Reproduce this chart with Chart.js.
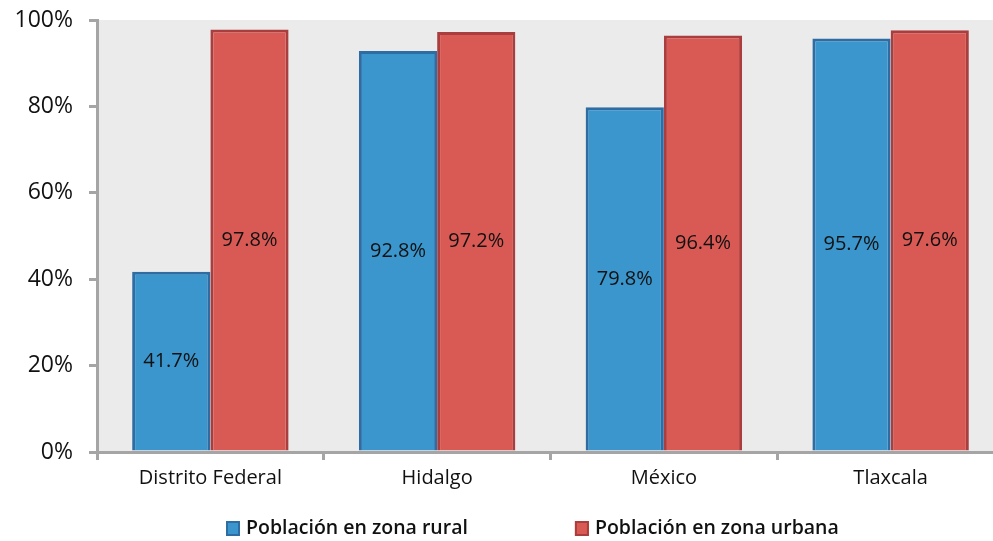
<!DOCTYPE html>
<html>
<head>
<meta charset="utf-8">
<script src="https://cdn.jsdelivr.net/npm/chart.js@4/dist/chart.umd.min.js"></script>
<style>
  html, body { margin: 0; padding: 0; background: #ffffff; overflow: hidden; }
  #wrap { position: relative; width: 1010px; height: 541px; }
  canvas { display: block; }
</style>
</head>
<body>
<div id="wrap"><canvas id="chart" width="1010" height="541"></canvas></div>
<script>
// Share of population by zone, per state
const categories = ['Distrito Federal', 'Hidalgo', 'México', 'Tlaxcala'];
const seriesNames = ['Población en zona rural', 'Población en zona urbana'];
const ruralValues = [41.7, 92.8, 79.8, 95.7];
const urbanValues = [97.8, 97.2, 96.4, 97.6];
const yTicks = [0, 20, 40, 60, 80, 100];

const FONT = '"Open Sans", "Noto Sans", sans-serif';
const AXIS_GREY = '#A5A5A5';

// Light grey plot background
const plotBackground = {
  id: 'plotBackground',
  beforeDraw(chart) {
    const { ctx, chartArea: a } = chart;
    ctx.save();
    ctx.fillStyle = '#EBEBEB';
    ctx.fillRect(a.left, a.top, a.right - a.left, a.bottom - a.top);
    ctx.restore();
  }
};

// Value labels centred inside each bar
const barValueLabels = {
  id: 'barValueLabels',
  afterDatasetsDraw(chart) {
    const { ctx } = chart;
    ctx.save();
    ctx.font = '20px ' + FONT;
    ctx.fillStyle = '#111111';
    ctx.textAlign = 'center';
    ctx.textBaseline = 'middle';
    chart.data.datasets.forEach((ds, di) => {
      chart.getDatasetMeta(di).data.forEach((bar, i) => {
        const y = (bar.y + bar.base) / 2;
        ctx.fillText(ds.data[i].toFixed(1) + '%', bar.x, y);
      });
    });
    ctx.restore();
  }
};

// Legend row beneath the axis
const bottomLegend = {
  id: 'bottomLegend',
  afterDraw(chart) {
    const { ctx } = chart;
    ctx.save();
    ctx.font = '600 19.5px ' + FONT;
    ctx.textBaseline = 'middle';
    const y = 528;
    let x = 226;
    chart.data.datasets.forEach((ds) => {
      ctx.fillStyle = ds.backgroundColor;
      ctx.fillRect(x, y - 7, 14, 15);
      ctx.strokeStyle = ds.borderColor;
      ctx.lineWidth = 2;
      ctx.strokeRect(x + 1, y - 6, 12, 13);
      ctx.fillStyle = '#111111';
      ctx.textAlign = 'left';
      ctx.fillText(ds.label, x + 20, y);
      x += 20 + ctx.measureText(ds.label).width + 107;
    });
    ctx.restore();
  }
};

new Chart(document.getElementById('chart'), {
  type: 'bar',
  data: {
    labels: categories,
    datasets: [
      {
        label: seriesNames[0],
        data: ruralValues,
        backgroundColor: '#3A96CC',
        borderColor: '#2E6CA4',
        borderWidth: 3,
        borderSkipped: 'start'
      },
      {
        label: seriesNames[1],
        data: urbanValues,
        backgroundColor: '#D95A54',
        borderColor: '#AA3D3D',
        borderWidth: 3,
        borderSkipped: 'start'
      }
    ]
  },
  options: {
    responsive: false,
    animation: false,
    devicePixelRatio: 1,
    layout: { padding: { left: 0, right: 6, top: 20, bottom: 0 } },
    datasets: { bar: { categoryPercentage: 0.69, barPercentage: 1.0 } },
    plugins: {
      legend: { display: false },
      tooltip: { enabled: false }
    },
    scales: {
      x: {
        grid: {
          display: true,
          offset: true,
          drawOnChartArea: false,
          drawTicks: true,
          tickLength: 8,
          color: AXIS_GREY,
          lineWidth: 3
        },
        border: { display: true, color: AXIS_GREY, width: 3 },
        ticks: {
          color: '#111111',
          font: { family: FONT, size: 20, weight: 500 },
          padding: 6,
          maxRotation: 0,
          minRotation: 0,
          autoSkip: false
        },
        afterFit(scale) {
          scale.height = 89;
          scale.paddingLeft = 0;
          scale.paddingRight = 0;
        }
      },
      y: {
        min: 0,
        max: 100,
        afterBuildTicks(scale) { scale.ticks = yTicks.map(v => ({ value: v })); },
        grid: {
          display: true,
          drawOnChartArea: false,
          drawTicks: true,
          tickLength: 8,
          color: AXIS_GREY,
          lineWidth: 3
        },
        border: { display: true, color: AXIS_GREY, width: 3 },
        ticks: {
          color: '#111111',
          font: { family: FONT, size: 23 },
          padding: 16,
          callback: (v) => v + '%'
        },
        afterFit(scale) {
          scale.width = 97;
          scale.paddingTop = 0;
          scale.paddingBottom = 0;
        }
      }
    }
  },
  plugins: [plotBackground, barValueLabels, bottomLegend]
});
</script>
</body>
</html>
